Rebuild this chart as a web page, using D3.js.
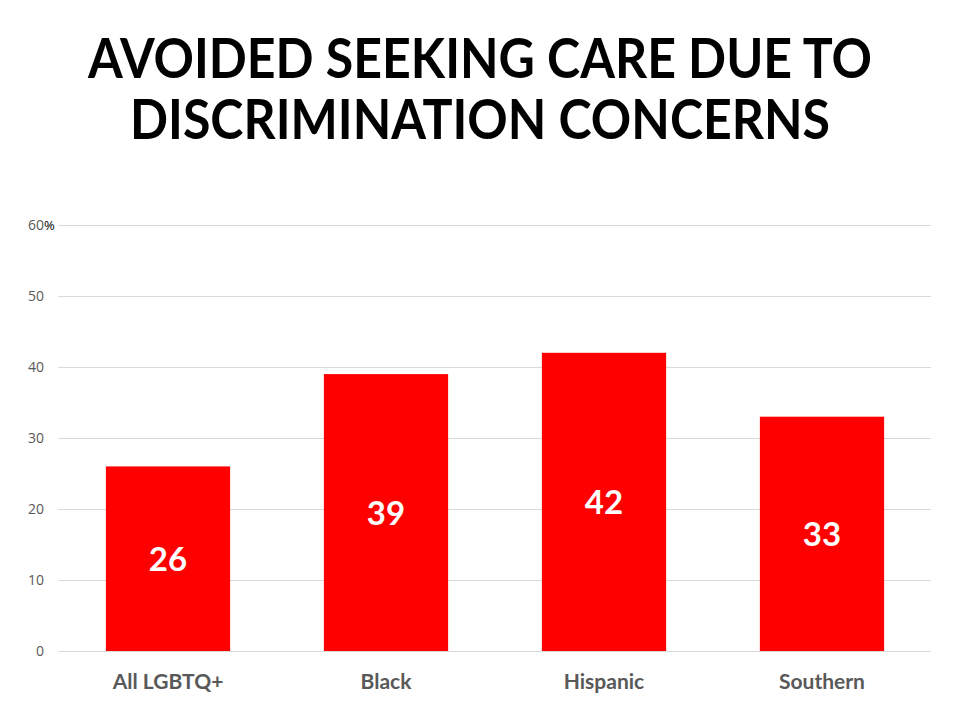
<!DOCTYPE html>
<html><head><meta charset="utf-8">
<script src="https://cdn.jsdelivr.net/npm/d3@7"></script>
<style>body{margin:0;background:#fff}</style>
</head><body>
<svg id="c" width="960" height="720"></svg>
<script>
const titleLines = ["AVOIDED SEEKING CARE DUE TO", "DISCRIMINATION CONCERNS"];
const categories = ["All LGBTQ+", "Black", "Hispanic", "Southern"];
const values = [26, 39, 42, 33];
const yTicks = [0, 10, 20, 30, 40, 50, 60];

const svg = d3.select("#c");
const fontFam = "Lato, 'Open Sans', sans-serif";

const x = d3.scaleBand().domain(categories).range([59, 931]).paddingInner(0.43).paddingOuter(0.215);
const y = d3.scaleLinear().domain([0, 60]).range([651, 225]);

// title
const titleWidths = [784, 700];
svg.append("g").selectAll("text").data(titleLines).join("text")
  .attr("x", 480).attr("y", (d, i) => 78 + i * 61)
  .attr("text-anchor", "middle")
  .attr("font-family", fontFam).attr("font-weight", 700)
  .attr("font-size", 55).attr("fill", "#000")
  .attr("textLength", (d, i) => titleWidths[i])
  .attr("lengthAdjust", "spacingAndGlyphs")
  .text(d => d);

// gridlines
svg.append("g").selectAll("line").data(yTicks).join("line")
  .attr("x1", 58).attr("x2", 931)
  .attr("y1", d => y(d) + 0.5).attr("y2", d => y(d) + 0.5)
  .attr("stroke", "#d9d9d9").attr("stroke-width", 1);

// y tick labels
svg.append("g").selectAll("text").data(yTicks).join("text")
  .attr("x", 44).attr("y", d => y(d) + 5)
  .attr("text-anchor", "end")
  .attr("font-family", "'Open Sans', sans-serif").attr("font-size", 14).attr("fill", "#595959")
  .text(d => d);
svg.append("text").attr("x", 44).attr("y", y(60) + 5)
  .attr("font-family", "'Open Sans', sans-serif").attr("font-size", 13).attr("fill", "#000")
  .text("%");

// bars
svg.append("g").selectAll("rect").data(values).join("rect")
  .attr("x", (d, i) => x(categories[i]))
  .attr("width", x.bandwidth())
  .attr("y", d => y(d))
  .attr("height", d => y(0) - y(d))
  .attr("fill", "#ff0000");

// value labels
svg.append("g").selectAll("text").data(values).join("text")
  .attr("x", (d, i) => x(categories[i]) + x.bandwidth() / 2)
  .attr("y", d => (y(d) + y(0)) / 2 + 12)
  .attr("text-anchor", "middle")
  .attr("font-family", fontFam).attr("font-weight", 700)
  .attr("font-size", 33).attr("fill", "#fff")
  .text(d => d);

// category labels
svg.append("g").selectAll("text").data(categories).join("text")
  .attr("x", d => x(d) + x.bandwidth() / 2)
  .attr("y", 689)
  .attr("text-anchor", "middle")
  .attr("font-family", fontFam).attr("font-weight", 700)
  .attr("font-size", 21).attr("fill", "#595959")
  .text(d => d);
</script>
</body></html>
